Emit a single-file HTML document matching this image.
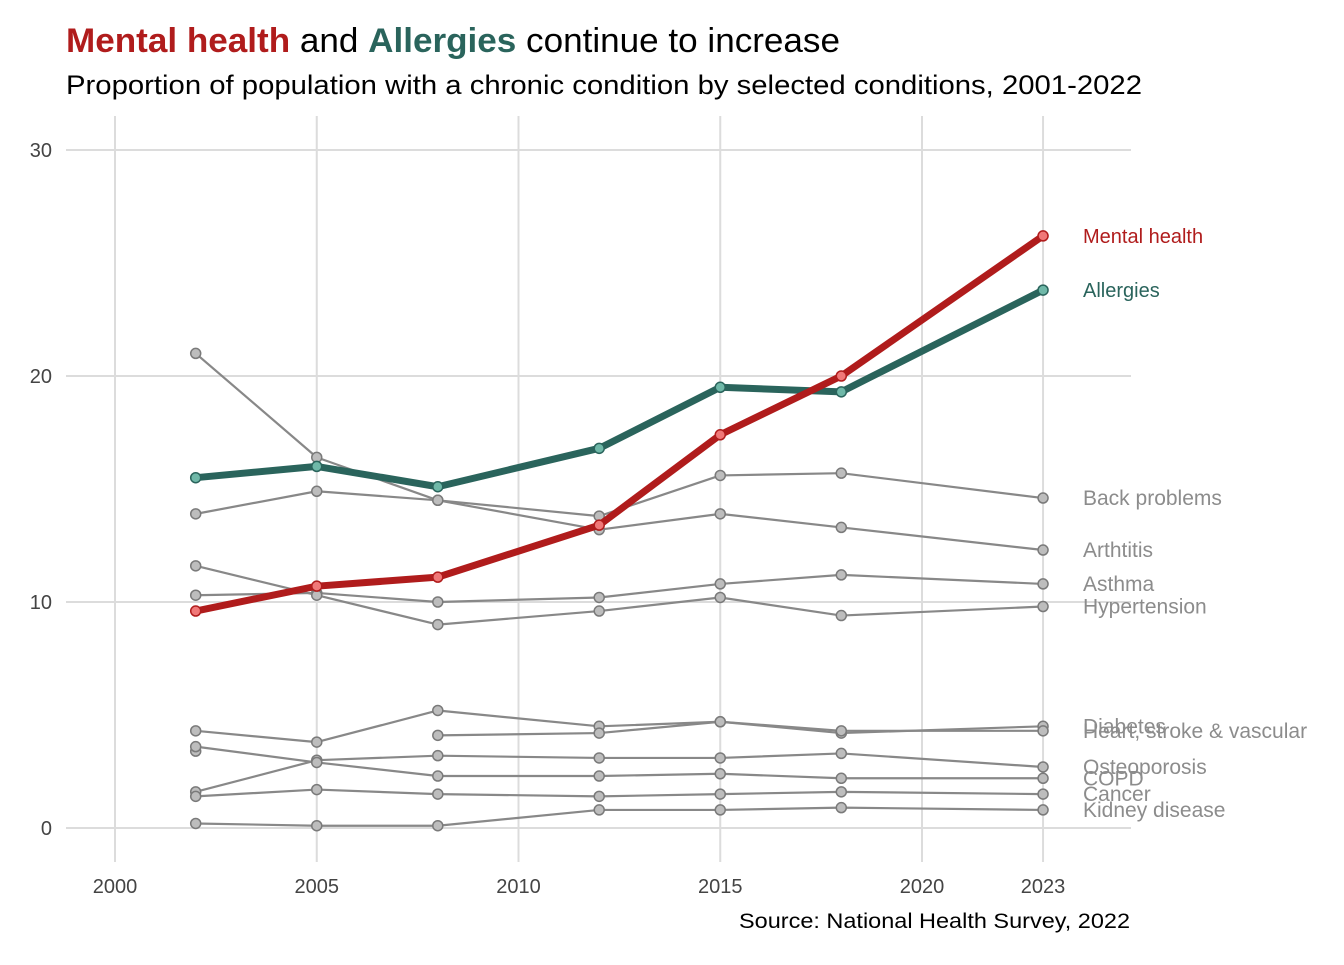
<!DOCTYPE html>
<html><head><meta charset="utf-8"><style>
body{margin:0;background:#fff;font-family:"Liberation Sans",Arial,sans-serif}
svg text{font-family:"Liberation Sans",Arial,sans-serif}
</style></head><body>
<svg id="c" width="1344" height="960">
<text x="66" y="52" font-size="34" fill="#000" textLength="774" lengthAdjust="spacingAndGlyphs"><tspan fill="#b01c1c" font-weight="bold">Mental health</tspan> and <tspan fill="#2a645c" font-weight="bold">Allergies</tspan> continue to increase</text>
<text x="66" y="94" font-size="27" fill="#000" textLength="1076" lengthAdjust="spacingAndGlyphs">Proportion of population with a chronic condition by selected conditions, 2001-2022</text>
<text x="1130" y="928" font-size="21" text-anchor="end" fill="#000" textLength="391" lengthAdjust="spacingAndGlyphs">Source: National Health Survey, 2022</text>
<g id="grid"></g><g id="greys"></g><g id="hl"></g><g id="labels"></g>
</svg>
<script>
const years=[2002,2005,2008,2012,2015,2018,2023];
const xTicks=[2000,2005,2010,2015,2020,2023];
const yTicks=[0,10,20,30];
const mental=[9.6,10.7,11.1,13.4,17.4,20.0,26.2];
const allergies=[15.5,16.0,15.1,16.8,19.5,19.3,23.8];
const backProblems=[13.9,14.9,14.5,13.8,15.6,15.7,14.6];
const arthritis=[21.0,16.4,14.5,13.2,13.9,13.3,12.3];
const asthma=[10.3,10.4,10.0,10.2,10.8,11.2,10.8];
const hypertension=[11.6,10.3,9.0,9.6,10.2,9.4,9.8];
const diabetes=[4.3,3.8,5.2,4.5,4.7,4.2,4.5];
const heart=[3.4,null,4.1,4.2,4.7,4.3,4.3];
const osteoporosis=[1.6,3.0,3.2,3.1,3.1,3.3,2.7];
const copd=[3.6,2.9,2.3,2.3,2.4,2.2,2.2];
const cancer=[1.4,1.7,1.5,1.4,1.5,1.6,1.5];
const kidney=[0.2,0.1,0.1,0.8,0.8,0.9,0.8];
const greyNames=["Back problems","Arthtitis","Asthma","Hypertension","Diabetes","Heart, stroke & vascular","Osteoporosis","COPD","Cancer","Kidney disease"];
const greySeries=[backProblems,arthritis,asthma,hypertension,diabetes,heart,osteoporosis,copd,cancer,kidney];
const NS="http://www.w3.org/2000/svg";
const x=v=>115+(v-2000)*40.35;
const y=v=>828-v*22.6;
function mk(tag,attrs,parent){const e=document.createElementNS(NS,tag);for(const k in attrs)e.setAttribute(k,attrs[k]);parent.appendChild(e);return e;}
const grid=document.getElementById('grid');
xTicks.forEach(t=>{
 const l=mk('line',{x1:x(t),x2:x(t),y1:116,y2:862,stroke:'#dcdcdc','stroke-width':2},grid);
 
 
 const tx=mk('text',{x:x(t),y:893,'font-size':20,'text-anchor':'middle',fill:'#444'},grid);tx.textContent=t;
 
 
});
yTicks.forEach(t=>{
 const l=mk('line',{x1:66,x2:1131,y1:y(t),y2:y(t),stroke:'#dcdcdc','stroke-width':2},grid);
 
 
 const tx=mk('text',{x:52,y:y(t)+7,'font-size':20,'text-anchor':'end',fill:'#444'},grid);tx.textContent=t;
 
 
});
function series(vals,g,color,w,fill,stroke,r,name){
 let d='',pen=false;
 vals.forEach((v,i)=>{if(v==null){pen=false;return;}d+=(pen?'L':'M')+x(years[i])+','+y(v);pen=true;});
 const p=mk('path',{d:d,fill:'none',stroke:color,'stroke-width':w,'stroke-linejoin':'round'},g);
 
 
 vals.forEach((v,i)=>{if(v==null)return;
  const c=mk('circle',{cx:x(years[i]),cy:y(v),r:r,fill:fill,stroke:stroke,'stroke-width':1.5},g);
  
  
 });
}
const greys=document.getElementById('greys'),hl=document.getElementById('hl'),labels=document.getElementById('labels');
greySeries.forEach((s,i)=>{
 const slug=greyNames[i].toLowerCase().replace(/[^a-z]+/g,'-');
 series(s,greys,'#888',2.2,'#bdbdbd','#7a7a7a',5,slug);
 const t=mk('text',{x:1083,y:y(s[s.length-1])+7,'font-size':21,fill:'#8c8c8c'},labels);t.textContent=greyNames[i];
 
 
});
series(allergies,hl,'#2a645c',7,'#6fb8a8','#2a645c',5,'allergies');
series(mental,hl,'#b01c1c',7,'#f07878','#b01c1c',5,'mental-health');
[[mental,'Mental health','#b01c1c'],[allergies,'Allergies','#2a645c']].forEach(([s,n,c])=>{
 const t=mk('text',{x:1083,y:y(s[s.length-1])+7,'font-size':20,fill:c},labels);t.textContent=n;
 
 
});
</script>
</body></html>
